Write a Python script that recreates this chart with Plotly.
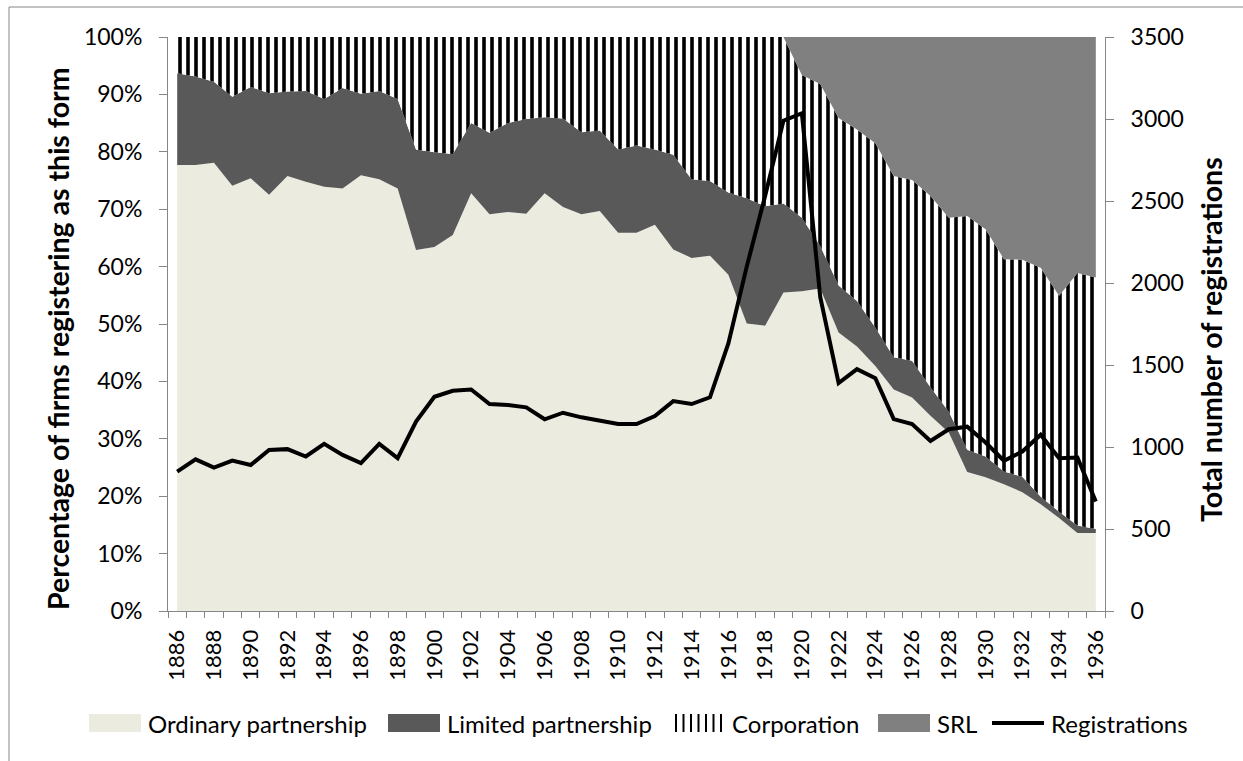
import plotly.graph_objects as go

years = list(range(1886, 1937))

# Percentage shares
ordinary = [77.7, 77.7, 78.1, 74.1, 75.4, 72.5, 75.8, 74.8, 73.9, 73.6,
            75.9, 75.2, 73.6, 62.9, 63.4, 65.5, 72.8, 69.1, 69.5, 69.2,
            72.8, 70.4, 69.1, 69.7, 65.9, 65.9, 67.3, 63.0, 61.5, 61.9,
            58.6, 50.1, 49.7, 55.5, 55.7, 56.2, 48.5, 46.1, 42.7, 38.6,
            37.2, 34.0, 31.1, 24.2, 23.3, 22.1, 20.7, 18.6, 16.2, 13.6, 13.6]
limited_top = [93.7, 93.1, 92.2, 89.6, 91.3, 90.2, 90.5, 90.6, 89.2, 91.1,
               90.1, 90.6, 89.2, 80.4, 79.9, 79.6, 85.0, 83.3, 85.0, 85.7,
               86.0, 85.8, 83.4, 83.7, 80.4, 81.1, 80.4, 79.5, 75.2, 74.9,
               72.9, 71.9, 70.5, 71.0, 68.5, 63.6, 56.7, 54.0, 49.4, 44.2,
               43.6, 39.0, 34.7, 28.1, 26.9, 24.3, 23.4, 19.9, 17.3, 14.9, 14.3]
srl = [0]*34 + [6.6, 8.2, 14.1, 16.1, 18.5, 24.2, 24.9, 27.7, 31.5, 31.2,
                33.5, 38.7, 38.8, 40.2, 45.1, 41.1, 41.9]
limited = [round(t - o, 1) for t, o in zip(limited_top, ordinary)]
corporation = [round(100 - t - s, 1) for t, s in zip(limited_top, srl)]

registrations = [850, 925, 875, 917, 890, 982, 987, 942, 1019, 952,
                 902, 1019, 932, 1155, 1306, 1343, 1351, 1262, 1256, 1242,
                 1169, 1209, 1181, 1160, 1140, 1140, 1189, 1280, 1262, 1303,
                 1631, 2100, 2530, 2990, 3035, 1915, 1390, 1475, 1420, 1170,
                 1140, 1037, 1108, 1124, 1027, 916, 972, 1075, 932, 936, 668]

series_names = ["Ordinary partnership", "Limited partnership", "Corporation", "SRL", "Registrations"]
C_ORD, C_LIM, C_SRL = "#ECEBE0", "#595959", "#808080"

FONT = "Lato"
AX = "#868686"
L, T, PW, PH = 168, 37, 937, 574


def px(x):
    return (x - L) / PW


def py(y):
    return (T + PH - y) / PH


fig = go.Figure()
fig.add_trace(go.Scatter(x=years, y=ordinary, name=series_names[0],
                         stackgroup="one", mode="none", fillcolor=C_ORD))
fig.add_trace(go.Scatter(x=years, y=limited, name=series_names[1],
                         stackgroup="one", mode="none", fillcolor=C_LIM))
fig.add_trace(go.Scatter(x=years, y=corporation, name=series_names[2],
                         stackgroup="one", mode="none", fillcolor="white",
                         fillpattern=dict(shape="|", fgcolor="black", bgcolor="white",
                                          fgopacity=1, size=8, solidity=0.45)))
fig.add_trace(go.Scatter(x=years, y=srl, name=series_names[3],
                         stackgroup="one", mode="none", fillcolor=C_SRL))
fig.add_trace(go.Scatter(x=years, y=registrations, name=series_names[4],
                         mode="lines", line=dict(color="black", width=4),
                         yaxis="y2"))

# Legend drawn manually (Excel-style wide swatches)
shapes = [dict(type="rect", xref="paper", yref="paper",
               x0=px(9), x1=px(1262), y0=py(800), y1=py(7),
               line=dict(color=AX, width=1), fillcolor="rgba(0,0,0,0)", layer="below")]
ly0, ly1, lyc = 714, 732, 723
for x0, x1, col in [(89, 141, C_ORD), (388, 440, C_LIM), (878, 930, C_SRL)]:
    shapes.append(dict(type="rect", xref="paper", yref="paper", x0=px(x0), x1=px(x1),
                       y0=py(ly1), y1=py(ly0), line=dict(width=0), fillcolor=col))
for k in range(7):
    xx = 676 + 7.5 * k
    shapes.append(dict(type="line", xref="paper", yref="paper", x0=px(xx), x1=px(xx),
                       y0=py(ly1), y1=py(ly0), line=dict(color="black", width=2)))
shapes.append(dict(type="line", xref="paper", yref="paper", x0=px(992), x1=px(1044),
                   y0=py(lyc), y1=py(lyc), line=dict(color="black", width=4)))

annotations = [
    dict(text="<b>Percentage of firms registering as this form</b>", textangle=-90,
         xref="paper", yref="paper", x=px(58), y=py(339),
         xanchor="center", yanchor="middle", showarrow=False, font=dict(size=28.5)),
    dict(text="<b>Total number of registrations</b>", textangle=-90,
         xref="paper", yref="paper", x=px(1211), y=py(340),
         xanchor="center", yanchor="middle", showarrow=False, font=dict(size=28.5)),
]
for xt, name in zip([146, 445, 730, 935, 1049], series_names):
    annotations.append(dict(text=name, xref="paper", yref="paper", x=px(xt), y=py(lyc),
                            xanchor="left", yanchor="middle", showarrow=False,
                            font=dict(size=24)))

fig.update_layout(
    width=1243, height=761,
    margin=dict(l=L, r=1243 - L - PW, t=T, b=761 - T - PH),
    paper_bgcolor="white", plot_bgcolor="white",
    font=dict(family=FONT, size=22, color="black"),
    showlegend=False,
    xaxis=dict(range=[1885.5, 1936.5], tick0=1886, dtick=2, tickangle=-90,
               showgrid=False, zeroline=False, showline=True, linecolor=AX, linewidth=1,
               ticks="", tickfont=dict(size=22), ticklabelstandoff=9,
               minor=dict(tick0=1885.5, dtick=1, ticks="outside", ticklen=6,
                          tickcolor=AX, tickwidth=1, showgrid=False)),
    yaxis=dict(range=[0, 100], dtick=10, ticksuffix="%", showgrid=False, zeroline=False,
               showline=True, linecolor=AX, linewidth=1, ticks="outside", ticklen=8,
               tickcolor=AX, tickfont=dict(size=23), ticklabelstandoff=12),
    yaxis2=dict(range=[0, 3500], dtick=500, overlaying="y", side="right", showgrid=False,
                zeroline=False, showline=True, linecolor=AX, linewidth=1,
                ticks="outside", ticklen=8, tickcolor=AX, tickfont=dict(size=23),
                ticklabelstandoff=12),
    annotations=annotations,
    shapes=shapes,
)

fig.write_html("out.html", config={"displayModeBar": False},
               post_script="document.body.style.margin='0';document.body.style.overflow='hidden';")
